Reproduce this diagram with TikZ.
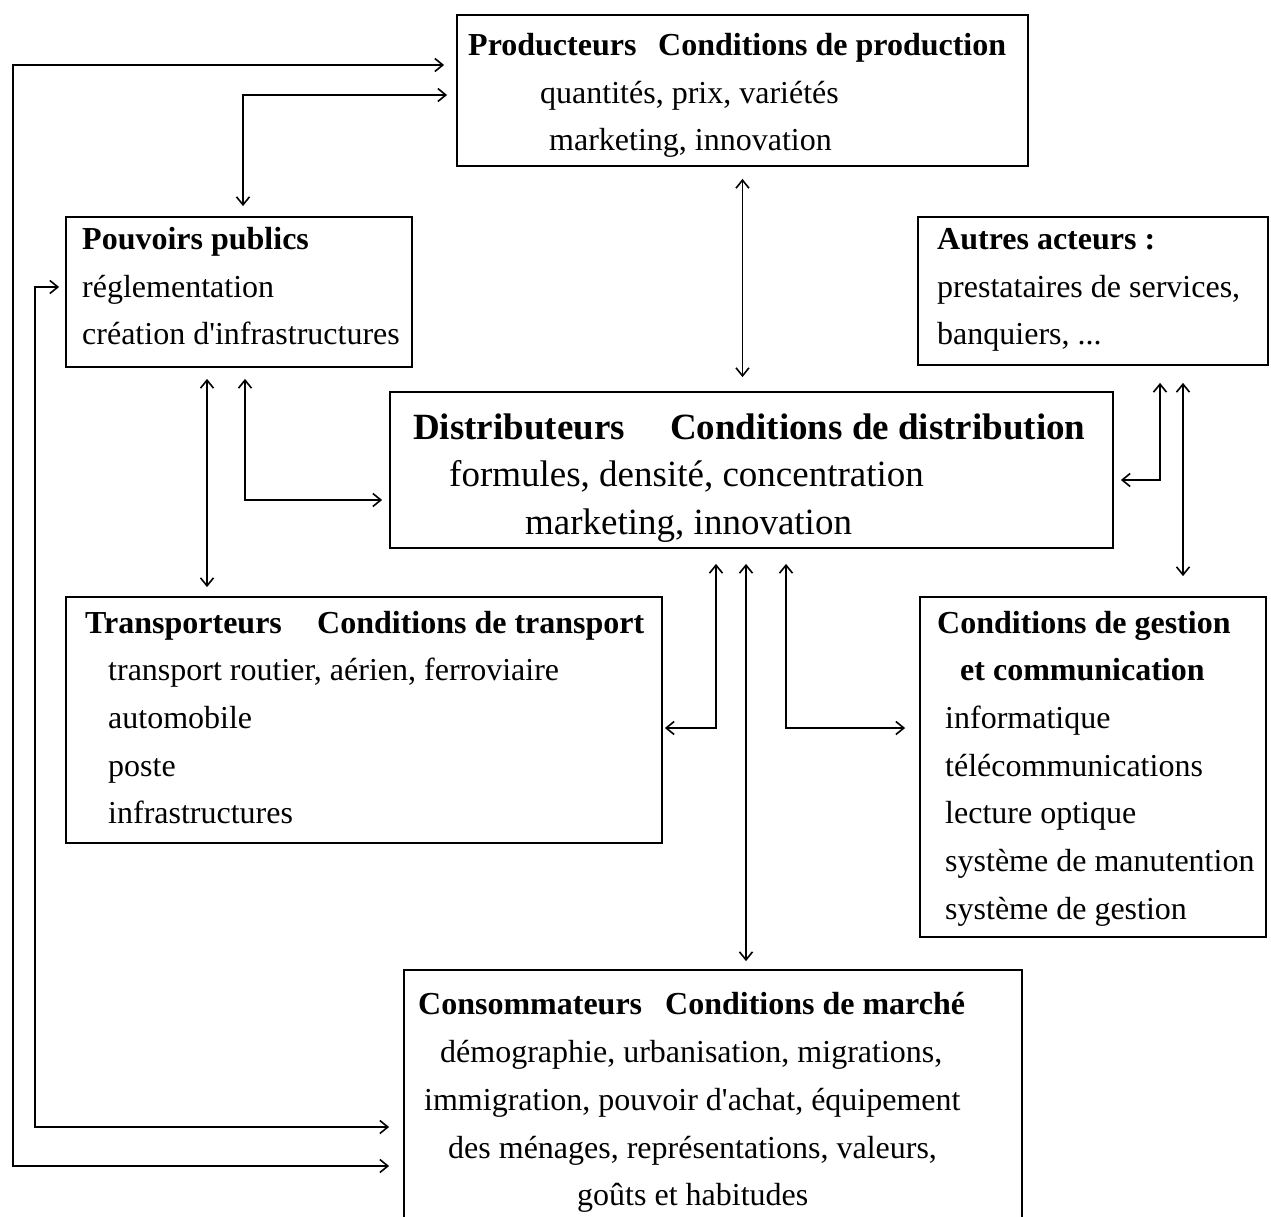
\documentclass[tikz,border=0pt]{standalone}
\usepackage{fontspec}
\setmainfont{Liberation Serif}
\usetikzlibrary{arrows.meta}
\tikzset{
  box/.style={draw, line width=1.8pt, inner sep=0pt},
  txt/.style={anchor=west, inner sep=0pt, font=\fontsize{32}{38}\selectfont, text height=26pt, text depth=4pt},
  hd/.style={txt, font=\fontsize{32}{38}\selectfont\bfseries},
  big/.style={anchor=west, inner sep=0pt, font=\fontsize{37}{44}\selectfont, text height=30pt, text depth=6pt},
  bighd/.style={big, font=\fontsize{37}{44}\selectfont\bfseries},
  conn/.style={line width=1.6pt, {Straight Barb[length=8pt,width=13pt]}-{Straight Barb[length=8pt,width=13pt]}},
}
\begin{document}
\begin{tikzpicture}[x=1pt,y=-1pt]
\useasboundingbox (0,0) rectangle (1271,1217);
\clip (0,0) rectangle (1271,1217);
\fill[white] (0,0) rectangle (1271,1217);

% boxes
\node[box, minimum width=571, minimum height=151] (prod) at (742.5,90.5) {};
\node[box, minimum width=346, minimum height=150] (pouv) at (239,292) {};
\node[box, minimum width=350, minimum height=148] (autres) at (1093,291) {};
\node[box, minimum width=723, minimum height=156] (dist) at (751.5,470) {};
\node[box, minimum width=596, minimum height=246] (trans) at (364,720) {};
\node[box, minimum width=346, minimum height=340] (gest) at (1093,767) {};
\node[box, minimum width=618, minimum height=260] (cons) at (713,1100) {};

% Producteurs
\node[hd] (prodA) at (468,45) {Producteurs};
\node[hd] (prodB) at (658,45) {Conditions de production};
\node[txt] (prod1) at (540,93) {quantités, prix, variétés};
\node[txt] (prod2) at (549,140) {marketing, innovation};

% Pouvoirs publics
\node[hd] (pouvA) at (82,238) {Pouvoirs publics};
\node[txt] (pouv1) at (82,286) {réglementation};
\node[txt] (pouv2) at (82,333) {création d\textquotesingle infrastructures};

% Autres acteurs
\node[hd] (autA) at (937,238) {Autres acteurs :};
\node[txt] (aut1) at (937,286) {prestataires de services,};
\node[txt] (aut2) at (937,333) {banquiers, ...};

% Distributeurs
\node[bighd] (distA) at (413,427) {Distributeurs};
\node[bighd] (distB) at (670,427) {Conditions de distribution};
\node[big] (dist1) at (449,474) {formules, densité, concentration};
\node[big] (dist2) at (525,522) {marketing, innovation};

% Transporteurs
\node[hd] (transA) at (85,622) {Transporteurs};
\node[hd] (transB) at (317,622) {Conditions de transport};
\node[txt] (trans1) at (108,669) {transport routier, aérien, ferroviaire};
\node[txt] (trans2) at (108,717) {automobile};
\node[txt] (trans3) at (108,765) {poste};
\node[txt] (trans4) at (108,812) {infrastructures};

% Gestion
\node[hd] (gestA) at (937,622) {Conditions de gestion};
\node[hd] (gestB) at (960,669) {et communication};
\node[txt] (gest1) at (945,717) {informatique};
\node[txt] (gest2) at (945,765) {télécommunications};
\node[txt] (gest3) at (945,812) {lecture optique};
\node[txt] (gest4) at (945,860) {système de manutention};
\node[txt] (gest5) at (945,908) {système de gestion};

% Consommateurs
\node[hd] (consA) at (418,1003) {Consommateurs};
\node[hd] (consB) at (665,1003) {Conditions de marché};
\node[txt] (cons1) at (440,1051) {démographie, urbanisation, migrations,};
\node[txt] (cons2) at (424,1099) {immigration, pouvoir d\textquotesingle achat, équipement};
\node[txt] (cons3) at (448,1147) {des ménages, représentations, valeurs,};
\node[txt] (cons4) at (577,1194) {goûts et habitudes};

% connector corner coordinates
\coordinate (c1) at (13,1166);
\coordinate (c2) at (13,65);
\coordinate (c3) at (35,1127);
\coordinate (c4) at (35,287);
\coordinate (c5) at (243,95);
\coordinate (c7) at (207,0);
\coordinate (c8) at (245,500);
\coordinate (c9) at (1160,480);
\coordinate (c12) at (1183,0);
\coordinate (c10) at (716,728);
\coordinate (c13) at (746,0);
\coordinate (c11) at (786,728);

% connectors
\draw[conn, shorten <=14pt, shorten >=12pt] (cons.west |- c1) -- (c1) -- (c2) -- (prod.west |- c2);
\draw[conn, shorten <=14pt, shorten >=6pt] (cons.west |- c3) -- (c3) -- (c4) -- (pouv.west |- c4);
\draw[conn, shorten <=10pt, shorten >=9pt] (pouv.north -| c5) -- (c5) -- (prod.west |- c5);
\draw[conn, shorten <=12pt, shorten >=14pt] (prod.south) -- (prod.south |- dist.north);
\draw[conn, shorten <=11pt, shorten >=9pt] (pouv.south -| c7) -- (trans.north -| c7);
\draw[conn, shorten <=11pt, shorten >=7pt] (pouv.south -| c8) -- (c8) -- (dist.west |- c8);
\draw[conn, shorten <=17pt, shorten >=7pt] (autres.south -| c9) -- (c9) -- (dist.east |- c9);
\draw[conn, shorten <=17pt, shorten >=20pt] (autres.south -| c12) -- (gest.north -| c12);
\draw[conn, shorten <=15pt, shorten >=2pt] (dist.south -| c10) -- (c10) -- (trans.east |- c10);
\draw[conn, shorten <=15pt, shorten >=8pt] (dist.south -| c13) -- (cons.north -| c13);
\draw[conn, shorten <=15pt, shorten >=14pt] (dist.south -| c11) -- (c11) -- (gest.west |- c11);
\end{tikzpicture}
\end{document}
